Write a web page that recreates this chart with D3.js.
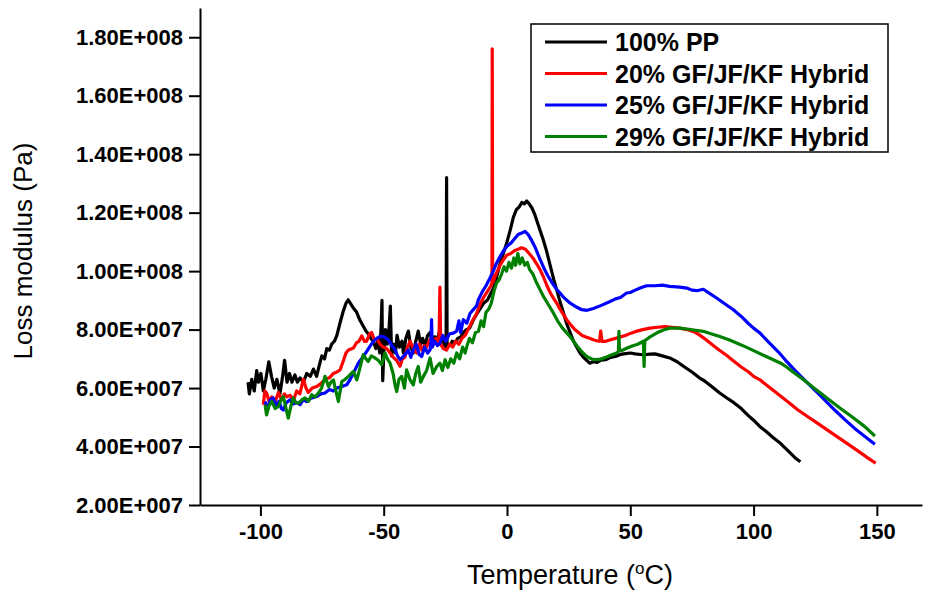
<!DOCTYPE html>
<html>
<head>
<meta charset="utf-8">
<script src="https://cdn.jsdelivr.net/npm/d3@7"></script>
<style>
  html, body { margin: 0; padding: 0; background: #fff; }
  svg { display: block; font-family: "Liberation Sans", Arial, sans-serif; }
</style>
</head>
<body>
<svg class="chart" width="929" height="590"></svg>
<script>
// series: [temperature (°C), loss modulus (×1e7 Pa)]
const seriesNames = ['100% PP', '20% GF/JF/KF Hybrid', '25% GF/JF/KF Hybrid', '29% GF/JF/KF Hybrid']
const seriesColors = ['#000000', '#ff0000', '#0000ff', '#008000']

const pp100 = [
  [-105,6.2],[-104.5,5.8],[-103.5,6.3],[-102.5,5.9],[-101.5,6.6],[-100.8,6.2],[-99.8,6.5],[-98.8,5.9],[-97.8,6.3],
  [-96.6,6.9],[-95.5,6.4],[-94.4,6.0],[-93.3,6.3],[-92.1,5.8],[-91,6.4],[-90.2,6.95],[-89.2,6.2],[-88.2,6.5],
  [-87.2,6.2],[-86,6.45],[-85,6.2],[-83.9,6.35],[-82.6,6.2],[-81.2,6.5],[-79.8,6.4],[-78.5,6.65],[-77.2,6.4],
  [-76.2,6.75],[-75.1,7.1],[-74,7.0],[-73.1,7.35],[-72,7.3],[-71.1,7.5],[-70,7.6],[-69,7.8],[-67.8,8.2],
  [-66.5,8.6],[-65.3,8.9],[-64.4,9.02],[-63.5,8.9],[-62.4,8.75],[-61,8.6],[-59.8,8.35],[-58.5,8.15],[-57.2,7.95],
  [-56.2,7.85],[-55.2,7.7],[-54.2,7.6],[-53.2,7.35],[-52.4,7.6],[-51.6,7.2],[-51,8.2],[-50.7,9.0],[-50.4,6.25],
  [-49.9,7.3],[-49.3,8.0],[-48.6,7.5],[-47.8,8.1],[-47.3,8.8],[-46.8,7.1],[-46,7.5],[-45.2,7.2],[-44.6,7.8],
  [-43.6,7.4],[-42.6,7.6],[-42,7.2],[-41,7.7],[-40,7.95],[-39,7.4],[-38,7.2],[-37,7.6],[-36,7.95],[-35,7.5],
  [-34.2,7.7],[-33.3,7.45],[-32.2,7.8],[-31.2,7.9],[-30.2,7.5],[-29.3,7.75],[-28.5,7.6],[-27.5,7.9],[-26.5,7.8],
  [-25.5,7.5],[-24.7,7.4],[-24.5,13.2],[-24.3,7.5],[-23.2,7.45],[-22.2,7.6],[-21,7.55],[-20,7.7],[-18.8,7.75],
  [-17.7,7.9],[-16.5,8.0],[-15.2,8.05],[-13.8,8.3],[-12.5,8.5],[-11,8.7],[-9.5,8.9],[-8,9.0],[-6.8,9.2],
  [-5.6,9.4],[-4.2,9.8],[-3,10.2],[-1.5,10.6],[0,11.0],[1.3,11.4],[2.6,11.85],[3.8,12.1],[5,12.2],[6,12.35],
  [7,12.3],[8,12.4],[9,12.3],[10.2,12.15],[11.2,11.95],[12.2,11.7],[13.4,11.4],[14.6,11.1],[16,10.7],[17.5,10.2],
  [19,9.7],[20.2,9.35],[21.5,8.95],[22.8,8.6],[24.2,8.2],[25.6,7.9],[27,7.6],[28.3,7.4],[29.6,7.2],[31,7.05],
  [32.3,6.95],[33.5,6.85],[35,6.9],[36.5,6.88],[38,6.95],[40,6.97],[42,7.05],[44,7.08],[46,7.15],[48,7.18],
  [50,7.2],[52,7.17],[55,7.14],[58,7.16],[60,7.17],[63,7.1],[66,7.03],[69,6.9],[72,6.72],[75,6.55],[78,6.35],
  [80,6.25],[83,6.05],[86,5.85],[89,5.67],[92,5.5],[95,5.3],[98,5.05],[100,4.9],[102.6,4.68],[105,4.52],
  [108,4.3],[111,4.1],[114,3.85],[117,3.6],[119,3.48]
]

const hybrid20 = [
  [-98.8,5.43],[-98.2,5.9],[-97.5,5.83],[-96.5,5.55],[-95.4,5.7],[-94.2,5.5],[-92.7,5.85],[-91.5,5.6],[-90.3,5.8],
  [-89.3,5.7],[-88,5.75],[-86.5,5.6],[-85.3,5.9],[-84,5.8],[-82.6,6.3],[-81.5,6.0],[-80.6,5.85],[-79,6.0],
  [-77.2,6.05],[-75.5,6.15],[-73.8,6.3],[-72,6.35],[-70.4,6.5],[-69,6.55],[-67.7,6.62],[-66.5,6.9],[-65.3,7.2],
  [-64.3,7.3],[-62.3,7.37],[-61,7.55],[-60,7.6],[-58.9,7.78],[-57.8,7.6],[-56.9,7.6],[-55.8,7.85],[-54.9,7.9],
  [-53.8,7.65],[-52.8,7.68],[-51.5,7.5],[-50.2,7.4],[-48.8,7.35],[-47.4,7.2],[-46.1,7.05],[-44.8,6.95],[-43.4,6.75],
  [-42.4,7.0],[-41.4,7.05],[-40.4,7.4],[-39.3,7.6],[-38,7.35],[-36.6,7.2],[-35.5,7.5],[-34.6,7.3],[-33.6,7.45],
  [-32.6,7.4],[-31.3,7.65],[-29.9,7.55],[-28.8,7.7],[-27.6,7.5],[-27.2,9.45],[-26.9,7.5],[-25.8,7.35],[-24.5,7.3],
  [-23.2,7.5],[-22,7.4],[-20.8,7.6],[-19.5,7.5],[-18.3,7.7],[-17,7.8],[-15.5,8.05],[-14,8.3],[-12.3,8.55],
  [-11,8.85],[-9.5,9.1],[-8,9.3],[-6.5,9.5],[-6.1,9.6],[-6,17.6],[-5.8,9.6],[-4.2,9.95],[-2.8,10.2],[-1.4,10.4],
  [0,10.55],[1.5,10.6],[3,10.7],[4.5,10.75],[6,10.8],[7.5,10.75],[9,10.6],[10.5,10.45],[12,10.25],[13.4,10.05],
  [14.8,9.8],[16.2,9.5],[17.6,9.25],[19,9.05],[20.2,8.9],[21.5,8.7],[23,8.5],[24.5,8.3],[26,8.15],[27.5,8.0],
  [29,7.9],[30.5,7.8],[32,7.75],[33.5,7.7],[35,7.65],[36.4,7.62],[37.5,7.6],[38,7.95],[38.5,7.6],[40,7.6],
  [42,7.65],[44,7.7],[46,7.75],[48,7.8],[50,7.87],[52,7.93],[55,8.0],[58,8.05],[61,8.08],[64,8.1],[67,8.08],
  [70,8.05],[73,8.0],[76,7.92],[78,7.82],[80,7.7],[83,7.5],[86,7.3],[89,7.12],[92,6.92],[95,6.72],[98,6.55],
  [100,6.4],[102.6,6.28],[106,6.05],[110,5.79],[114,5.52],[118,5.25],[122,5.02],[126,4.79],[130,4.56],[134,4.33],
  [138,4.1],[142,3.87],[146,3.63],[149.5,3.43]
]

const hybrid25 = [
  [-98.1,5.54],[-97,5.3],[-96,5.6],[-94.8,5.66],[-93.6,5.4],[-92.4,5.55],[-91.5,5.3],[-90.7,5.25],[-89.5,5.5],
  [-88,5.6],[-86.8,5.45],[-85.4,5.5],[-83.9,5.43],[-82.6,5.6],[-81.2,5.54],[-79.5,5.65],[-77.2,5.71],[-75.5,5.8],
  [-73.8,5.83],[-72,5.95],[-70.4,5.9],[-69,6.0],[-67,6.05],[-65,6.11],[-63.6,6.3],[-62.3,6.51],[-61.2,6.7],
  [-60.3,6.85],[-58.6,7.05],[-56.9,7.25],[-55.4,7.45],[-54.2,7.6],[-52.8,7.7],[-51.5,7.77],[-49.8,7.75],
  [-48.1,7.65],[-46.7,7.45],[-45.4,7.31],[-44.4,7.1],[-43.4,6.97],[-42.4,7.05],[-41.4,7.14],[-40,7.3],[-39,7.05],
  [-38,7.31],[-36.8,7.5],[-35.6,7.15],[-34.6,7.08],[-33.4,7.4],[-32.2,7.2],[-31.2,7.31],[-30.8,7.6],[-30.6,8.34],
  [-30.3,7.4],[-29.3,7.6],[-28.2,7.45],[-27.2,7.54],[-26,7.8],[-24.8,7.6],[-23.4,7.85],[-21.8,7.88],[-20.4,7.95],
  [-19.5,8.3],[-18.8,7.9],[-17.7,8.34],[-16.3,8.22],[-15,8.55],[-13.5,8.7],[-12.4,8.8],[-11.6,9.02],[-10,9.3],
  [-8.5,9.5],[-7,9.75],[-5.6,10.0],[-4.2,10.28],[-2.8,10.5],[-1.4,10.7],[0,10.85],[1.5,10.95],[3,11.1],
  [4.5,11.25],[6,11.3],[7.3,11.36],[8.6,11.25],[10,11.05],[11.5,10.8],[13.4,10.4],[15,10.1],[16.5,9.85],
  [18.3,9.6],[20.2,9.37],[21.5,9.25],[23,9.1],[25.5,8.91],[28,8.78],[30.3,8.68],[32.5,8.66],[35,8.72],[38,8.82],
  [41.8,8.96],[44,9.05],[46,9.1],[48.5,9.25],[50,9.27],[52,9.35],[54,9.42],[56.6,9.5],[60,9.5],[63,9.52],
  [66,9.48],[70,9.45],[72.9,9.42],[75,9.35],[77,9.33],[79.6,9.38],[82,9.25],[85,9.08],[88,8.9],[91.8,8.68],
  [95,8.45],[98,8.2],[100,8.05],[102.6,7.88],[106,7.58],[110,7.24],[113,6.95],[116.1,6.67],[120,6.33],[124,6.0],
  [127,5.75],[129.6,5.53],[133,5.24],[137,4.92],[141,4.62],[145,4.35],[149.2,4.08]
]

const hybrid29 = [
  [-98.1,5.43],[-97.5,5.08],[-96.5,5.4],[-95.4,5.54],[-94,5.3],[-92.7,5.37],[-91.6,5.6],[-90.7,5.71],[-89.6,5.3],
  [-88.7,4.97],[-87.6,5.4],[-86.7,5.66],[-85.6,5.5],[-84.6,5.48],[-83.2,5.6],[-81.9,5.66],[-80.5,5.55],[-79.2,5.77],
  [-77.8,5.7],[-76.5,5.83],[-75.2,6.0],[-73.8,6.4],[-72.4,6.05],[-71.4,6.2],[-70.4,6.28],[-69.4,5.9],[-68.4,5.54],
  [-67,6.22],[-65.6,6.3],[-64.3,6.4],[-62.3,6.57],[-60.9,6.28],[-59.6,6.7],[-58.3,7.14],[-57.2,7.0],[-56.3,6.91],
  [-55,7.1],[-53.6,7.03],[-52.2,6.95],[-50.8,6.8],[-49.5,7.2],[-48.5,7.0],[-47.4,6.85],[-46.2,6.5],[-45.4,6.1],
  [-44.7,5.88],[-43.8,6.3],[-42.7,6.4],[-41.6,6.0],[-40.7,6.62],[-39.4,6.3],[-38,6.11],[-37,6.5],[-36,6.74],
  [-35,6.2],[-33.9,6.4],[-32.6,6.6],[-31.2,7.03],[-30,6.5],[-28.5,6.74],[-27.2,6.85],[-26.2,6.6],[-25.1,6.97],
  [-24,6.7],[-22.8,7.0],[-21.6,6.85],[-20.4,7.2],[-19.2,7.0],[-18,7.4],[-17,7.2],[-16.3,7.42],[-15.2,7.7],
  [-14,7.55],[-12.8,7.9],[-11.6,7.94],[-10.5,8.3],[-9.5,8.1],[-8.5,8.6],[-7.4,8.7],[-6.4,8.9],[-5.3,9.3],
  [-4.2,9.6],[-3.2,9.7],[-2.2,9.9],[-1.2,10.15],[-0.2,10.0],[0.8,10.3],[1.8,10.1],[2.8,10.45],[3.5,10.2],
  [4.4,10.6],[5.2,10.25],[6.2,10.45],[7.2,10.2],[8.2,10.3],[9.2,10.05],[10.5,9.9],[12,9.6],[13.5,9.35],[15,9.1],
  [16.8,8.85],[18.8,8.57],[20.5,8.3],[22.5,8.05],[25.5,7.77],[28.3,7.45],[30.3,7.25],[32.3,7.08],[35,6.97],
  [37.5,6.98],[40,7.05],[42,7.12],[44.5,7.2],[45.2,7.25],[45.4,7.94],[45.6,7.28],[47,7.3],[49,7.38],[51,7.45],
  [53,7.5],[55.3,7.6],[55.6,6.74],[55.9,7.62],[58,7.75],[61,7.9],[64,8.0],[66,8.05],[70,8.05],[73,8.02],[76,7.98],
  [79.6,7.94],[83,7.85],[86,7.77],[90,7.65],[93.1,7.54],[97,7.4],[100,7.28],[104,7.12],[108,6.97],[111,6.85],
  [113.4,6.72],[116,6.55],[120,6.3],[125,5.97],[130,5.64],[135,5.32],[140,5.01],[145,4.69],[149.2,4.36]
]

const seriesData = [pp100, hybrid20, hybrid25, hybrid29]

const xTicks = [-100, -50, 0, 50, 100, 150]
const xMinorTicks = [-125, -75, -25, 25, 75, 125]
const yTicks = [2e7, 4e7, 6e7, 8e7, 1e8, 1.2e8, 1.4e8, 1.6e8, 1.8e8]
const yMinorTicks = [3e7, 5e7, 7e7, 9e7, 1.1e8, 1.3e8, 1.5e8, 1.7e8]

// Origin style label, e.g. 1.80E+008
function sciLabel(v) {
  const [m, e] = v.toExponential(2).split('e')
  const n = +e
  return `${m}E${n < 0 ? '-' : '+'}${String(Math.abs(n)).padStart(3, '0')}`
}

class LossChart {
  constructor() {
    this.svg = d3.select('svg.chart')
    this.x = d3.scaleLinear().domain([-124.5, 168.3]).range([200, 922])
    this.y = d3.scaleLinear().domain([2e7, 1.9e8]).range([505, 8])
    this.render()
  }

  render() {
    this.lines()
    this.axes()
    this.titles()
    this.legend()
  }

  lines() {
    const line = d3.line()
      .x(d => this.x(d[0]))
      .y(d => this.y(d[1] * 1e7))

    this.svg.append('g')
      .selectAll('path')
      .data(seriesData)
      .enter()
      .append('path')
      .attr('d', d => line(d))
      .attr('fill', 'none')
      .attr('stroke', (d, i) => seriesColors[i])
      .attr('stroke-width', 3.2)
      .attr('stroke-linejoin', 'round')
  }

  axes() {
    const xAxis = this.svg.append('g')
      .attr('transform', `translate(0,${this.y.range()[0]})`)
    xAxis.call(d3.axisBottom(this.x).tickValues(xMinorTicks).tickSize(6).tickSizeOuter(0).tickFormat(''))
    // plain hyphen minus, like the original
    xAxis.call(d3.axisBottom(this.x).tickValues(xTicks).tickSize(11).tickSizeOuter(0).tickPadding(7).tickFormat(d => String(d)))

    const yAxis = this.svg.append('g')
      .attr('transform', `translate(${this.x.range()[0]},0)`)
    yAxis.call(d3.axisLeft(this.y).tickValues(yMinorTicks).tickSize(6).tickSizeOuter(0).tickFormat(''))
    yAxis.call(d3.axisLeft(this.y).tickValues(yTicks).tickSize(11).tickSizeOuter(0).tickPadding(6).tickFormat(sciLabel))

    this.svg.selectAll('.domain, .tick line')
      .attr('stroke', '#000')
      .attr('stroke-width', 2)
    this.svg.selectAll('.tick text')
      .attr('fill', '#000')
      .style('font-size', '22px')
      .style('font-weight', 'bold')
      .style('font-family', '"Liberation Sans", Arial, sans-serif')
  }

  titles() {
    const xt = this.svg.append('text')
      .attr('x', 570)
      .attr('y', 584)
      .attr('text-anchor', 'middle')
      .style('font-size', '27px')
    xt.append('tspan').text('Temperature (')
    xt.append('tspan').text('o').attr('dy', -10).style('font-size', '17px')
    xt.append('tspan').text('C)').attr('dy', 10)

    this.svg.append('text')
      .attr('transform', 'translate(32,251) rotate(-90)')
      .attr('text-anchor', 'middle')
      .style('font-size', '26px')
      .text('Loss modulus (Pa)')
  }

  legend() {
    const g = this.svg.append('g')
    g.append('rect')
      .attr('x', 531).attr('y', 24)
      .attr('width', 357).attr('height', 128)
      .attr('fill', '#fff')
      .attr('stroke', '#000')
      .attr('stroke-width', 1.5)

    const rows = g.selectAll('.row')
      .data(seriesNames)
      .enter()
      .append('g')
      .attr('transform', (d, i) => `translate(0,${42 + i * 31.5})`)

    rows.append('line')
      .attr('x1', 545).attr('x2', 607)
      .attr('stroke', (d, i) => seriesColors[i])
      .attr('stroke-width', 3.2)
    rows.append('text')
      .attr('x', 615)
      .attr('y', 9)
      .style('font-size', '25px')
      .style('font-weight', 'bold')
      .text(d => d)
  }
}

new LossChart()
</script>
</body>
</html>
